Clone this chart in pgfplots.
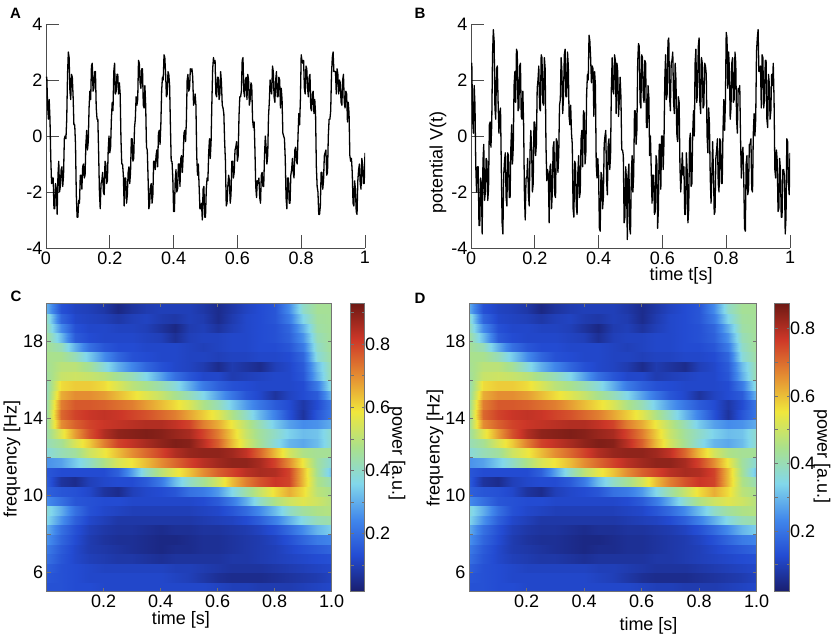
\documentclass[border=0pt]{standalone}
\usepackage{fontspec}
\setmainfont{Liberation Sans}
\usepackage{pgfplots}
\usepackage{pgfplotstable}
\pgfplotsset{compat=1.18}
\pgfplotsset{/pgf/number format/assume math mode=true}
\pgfplotsset{colormap={softjet}{rgb255=(25,30,110) rgb255=(35,75,210) rgb255=(65,135,235) rgb255=(130,215,235) rgb255=(170,225,140) rgb255=(240,230,60) rgb255=(228,140,50) rgb255=(205,55,40) rgb255=(110,25,20)}}

\pgfplotstableread{
t a b
0 2.1 2.5
0.0025 2.1 2.6
0.005 1.1 0.6
0.0075 0.6 0.1
0.01 1.3 1.8
0.0125 0.6 1.1
0.015 -0.8 -1.1
0.0175 -1.7 -2.0
0.02 -1.5 -1.1
0.0225 -1.5 -1.1
0.025 -2.6 -3.2
0.0275 -2.6 -3.2
0.03 -1.7 -1.5
0.0325 -1.9 -1.7
0.035 -2.8 -3.5
0.0375 -1.4 -0.9
0.04 -0.9 -0.3
0.0425 -2.0 -2.3
0.045 -1.8 -2.0
0.0475 -1.2 -0.8
0.05 -1.1 -0.9
0.0525 -1.8 -2.3
0.055 -1.4 -1.9
0.0575 -0.1 0.4
0.06 0.0 0.5
0.0625 -0.1 -0.4
0.065 0.6 0.4
0.0675 2.2 2.9
0.07 3.0 3.8
0.0725 2.8 3.4
0.075 1.6 1.0
0.0775 1.3 0.6
0.08 2.2 2.4
0.0825 2.1 2.5
0.085 1.4 1.2
0.0875 0.4 0.1
0.09 0.4 0.8
0.0925 -0.3 1.0
0.095 -2.1 -1.1
0.0975 -2.9 -3.1
0.1 -2.9 -3.5
0.1025 -2.3 -1.4
0.105 -2.4 -0.9
0.1075 -1.4 -0.6
0.11 -1.4 -2.2
0.1125 -1.9 -2.5
0.115 -1.1 -0.6
0.1175 -1.0 -0.7
0.12 -1.5 -2.2
0.1225 -1.4 -2.2
0.125 -0.3 -0.4
0.1275 0.2 0.4
0.13 -0.5 -1.0
0.1325 -0.2 -0.4
0.135 1.0 1.8
0.1375 1.6 2.3
0.14 1.3 1.2
0.1425 2.5 3.1
0.145 2.6 3.0
0.1475 1.6 0.9
0.15 1.7 1.0
0.1525 2.3 2.5
0.155 2.3 2.6
0.1575 1.0 0.7
0.16 0.6 0.6
0.1625 0.6 1.6
0.165 -0.6 0.4
0.1675 -2.0 -2.1
0.17 -2.6 -3.0
0.1725 -1.7 -1.5
0.175 -1.6 -1.5
0.1775 -1.3 -0.8
0.18 -2.0 -2.1
0.1825 -2.1 -2.5
0.185 -0.9 -0.6
0.1875 -1.0 0.2
0.19 -1.7 -0.4
0.1925 -1.6 -2.0
0.195 -0.5 -1.7
0.1975 0.0 0.5
0.2 -0.6 0.5
0.2025 -0.4 -0.7
0.205 0.6 -0.3
0.2075 1.2 1.7
0.21 0.9 2.0
0.2125 2.3 2.5
0.215 2.6 1.0
0.2175 1.5 0.9
0.22 1.6 2.9
0.2225 2.2 2.8
0.225 2.2 1.2
0.2275 1.5 1.1
0.23 1.9 2.8
0.2325 1.5 2.4
0.235 -0.1 -0.3
0.2375 -1.0 -1.6
0.24 -1.0 -1.2
0.2425 -1.4 -1.4
0.245 -2.5 -3.1
0.2475 -1.5 -1.1
0.25 -1.5 -1.0
0.2525 -2.4 -2.6
0.255 -2.1 -2.0
0.2575 -1.3 -0.4
0.26 -1.1 -0.2
0.2625 -1.7 -2.1
0.265 -1.3 -2.2
0.2675 -0.1 -0.1
0.27 -0.1 -0.2
0.2725 -0.9 -1.3
0.275 -0.8 -0.7
0.2775 0.3 1.1
0.28 0.6 1.3
0.2825 1.4 2.8
0.285 1.1 2.3
0.2875 1.3 0.8
0.29 2.7 1.4
0.2925 2.6 2.9
0.295 1.9 3.1
0.2975 1.7 1.4
0.3 2.4 1.4
0.3025 2.4 3.0
0.305 1.1 2.5
0.3075 1.0 0.7
0.31 1.8 0.4
0.3125 1.1 1.1
0.315 -0.4 0.1
0.3175 -0.5 -0.3
0.32 -1.5 -2.6
0.3225 -2.6 -2.9
0.325 -2.4 -0.9
0.3275 -1.8 -1.0
0.33 -1.7 -2.5
0.3325 -2.4 -2.8
0.335 -2.1 -1.3
0.3375 -0.9 -0.7
0.34 -0.9 -2.2
0.3425 -1.2 -2.0
0.345 -0.7 -0.1
0.3475 -0.5 0.2
0.35 -1.1 -1.1
0.3525 0.1 0.9
0.355 0.2 0.8
0.3575 -0.3 -1.0
0.36 0.4 -0.6
0.3625 1.6 1.5
0.365 2.1 2.2
0.3675 2.0 2.0
0.37 2.9 3.6
0.3725 2.8 3.4
0.375 2.2 2.8
0.3775 1.4 1.9
0.38 1.5 2.5
0.3825 2.3 2.4
0.385 2.2 0.7
0.3875 1.8 2.3
0.39 0.4 1.8
0.3925 -0.9 -1.0
0.395 -0.9 -1.5
0.3975 -1.5 -0.8
0.4 -2.7 -1.4
0.4025 -2.7 -3.3
0.405 -1.6 -3.4
0.4075 -1.2 -1.3
0.41 -2.0 -1.4
0.4125 -1.9 -2.6
0.415 -1.0 -2.2
0.4175 -1.0 -0.3
0.42 -1.8 0.0
0.4225 -0.8 0.2
0.425 -0.7 -1.6
0.4275 -1.3 -2.1
0.43 -0.7 -0.3
0.4325 0.1 -0.1
0.435 0.2 -1.2
0.4375 -0.2 -0.7
0.44 0.5 1.7
0.4425 2.0 2.8
0.445 2.2 1.6
0.4475 1.6 1.5
0.45 1.7 2.9
0.4525 2.4 2.7
0.455 2.3 0.8
0.4575 2.4 2.6
0.46 2.1 2.3
0.4625 1.1 0.7
0.465 1.2 1.3
0.4675 1.5 2.1
0.47 1.1 1.4
0.4725 -0.7 -0.5
0.475 -1.4 -0.5
0.4775 -1.0 -0.7
0.48 -1.8 -3.1
0.4825 -2.6 -2.9
0.485 -2.6 -1.1
0.4875 -2.4 -1.6
0.49 -3.0 -3.7
0.4925 -1.9 -1.4
0.495 -1.8 -1.0
0.4975 -2.9 -3.3
0.5 -2.9 -3.5
0.5025 -1.9 -1.4
0.505 -1.5 -0.7
0.5075 -1.6 -2.0
0.51 -0.6 -1.4
0.5125 -0.1 0.9
0.515 -0.8 0.9
0.5175 -0.2 -0.3
0.52 1.2 0.2
0.5225 2.4 2.6
0.525 2.8 3.3
0.5275 2.6 3.2
0.53 2.7 1.2
0.5325 1.5 1.0
0.535 1.4 2.9
0.5375 2.1 2.8
0.54 2.1 1.4
0.5425 1.3 1.2
0.545 1.5 2.7
0.5475 2.3 2.6
0.55 1.9 0.3
0.5525 1.1 0.3
0.555 1.0 1.8
0.5575 0.8 1.4
0.56 -0.2 -0.7
0.5625 -0.9 0.0
0.565 -2.5 -1.2
0.5675 -2.4 -2.4
0.57 -1.8 -1.4
0.5725 -1.4 -1.4
0.575 -1.6 -2.8
0.5775 -2.4 -2.7
0.58 -2.1 -0.7
0.5825 -0.9 -0.9
0.585 -0.9 -3.3
0.5875 -1.5 -2.6
0.59 -1.3 -0.3
0.5925 -0.5 -0.3
0.595 -0.4 -1.9
0.5975 -0.2 0.0
0.6 -0.9 0.0
0.6025 -0.7 -1.2
0.605 0.7 -0.2
0.6075 1.4 2.0
0.61 1.4 2.9
0.6125 1.6 1.3
0.615 2.7 1.5
0.6175 2.8 3.4
0.62 1.6 3.5
0.6225 1.4 1.4
0.625 2.0 0.9
0.6275 2.1 2.6
0.63 1.3 2.7
0.6325 2.2 3.0
0.635 2.0 1.2
0.6375 1.1 0.8
0.64 1.3 2.6
0.6425 1.9 2.0
0.645 1.8 0.1
0.6475 0.6 -0.2
0.65 0.3 1.4
0.6525 0.5 1.2
0.655 -0.5 -1.1
0.6575 -1.8 -2.0
0.66 -2.2 -1.3
0.6625 -1.6 -0.6
0.665 -1.7 -1.4
0.6675 -1.5 -1.1
0.67 -2.2 -2.8
0.6725 -2.4 -2.8
0.675 -1.4 -0.6
0.6775 -1.3 -1.2
0.68 -1.8 -3.1
0.6825 -1.8 -2.6
0.685 -0.7 -0.2
0.6875 0.0 0.1
0.69 -0.4 -1.8
0.6925 -1.0 -1.7
0.695 -0.7 0.1
0.6975 0.7 0.9
0.7 1.2 0.0
0.7025 2.0 2.6
0.705 1.7 3.1
0.7075 1.5 1.2
0.71 2.5 1.5
0.7125 2.3 3.2
0.715 1.4 3.5
0.7175 1.2 1.2
0.72 2.0 0.8
0.7225 2.3 2.8
0.725 1.4 2.6
0.7275 1.4 1.0
0.73 2.1 1.1
0.7325 2.0 2.6
0.735 1.0 2.5
0.7375 1.7 2.2
0.74 1.3 0.0
0.7425 0.1 -0.6
0.745 0.0 1.0
0.7475 -0.1 0.4
0.75 -0.8 -1.5
0.7525 -2.2 -2.4
0.755 -2.6 -1.4
0.7575 -1.5 -0.2
0.76 -1.5 -1.3
0.7625 -2.4 -2.8
0.765 -2.4 -2.7
0.7675 -1.4 -0.8
0.77 -1.2 -0.5
0.7725 -0.8 -0.1
0.775 -1.3 -1.7
0.7775 -1.5 -2.0
0.78 -0.5 -0.1
0.7825 -0.4 -0.2
0.785 -0.9 -1.7
0.7875 -1.0 -1.7
0.79 0.0 0.2
0.7925 0.8 1.3
0.795 0.4 0.2
0.7975 1.3 1.2
0.8 2.9 3.7
0.8025 2.7 3.5
0.805 2.6 1.7
0.8075 2.7 3.0
0.81 1.7 2.4
0.8125 1.5 0.6
0.815 2.5 1.0
0.8175 2.4 2.6
0.82 1.7 2.8
0.8225 1.4 1.2
0.825 2.1 1.3
0.8275 2.2 3.0
0.83 1.0 2.6
0.8325 0.9 0.6
0.835 1.5 0.1
0.8375 1.6 1.7
0.84 0.8 1.6
0.8425 1.3 1.8
0.845 0.8 -0.1
0.8475 -1.1 -1.5
0.85 -1.8 -0.6
0.8525 -2.0 -0.4
0.855 -2.8 -1.5
0.8575 -2.8 -3.3
0.86 -2.5 -3.4
0.8625 -1.3 -1.0
0.865 -1.3 -0.7
0.8675 -1.9 -2.1
0.87 -1.6 -1.9
0.8725 -0.7 -0.3
0.875 -0.6 -0.3
0.8775 -0.5 -0.1
0.88 -1.4 -1.9
0.8825 -1.3 -2.0
0.885 0.0 0.1
0.8875 0.6 0.8
0.89 0.6 0.0
0.8925 0.9 0.6
0.895 2.2 3.0
0.8975 2.8 3.5
0.9 3.0 3.8
0.9025 2.3 2.3
0.905 2.3 2.4
0.9075 2.3 2.5
0.91 1.5 1.0
0.9125 2.4 2.9
0.915 2.2 2.8
0.9175 1.5 1.0
0.92 2.0 1.3
0.9225 1.9 2.7
0.925 1.2 2.7
0.9275 1.1 0.6
0.93 2.0 0.3
0.9325 2.2 2.2
0.935 1.2 1.9
0.9375 1.0 0.6
0.94 1.6 0.9
0.9425 1.5 2.2
0.945 0.5 1.8
0.9475 1.2 2.6
0.95 0.8 1.3
0.9525 -0.7 -1.2
0.955 -0.9 -1.5
0.9575 -0.8 -0.5
0.96 -1.3 -0.9
0.9625 -2.4 -2.7
0.965 -2.5 -2.6
0.9675 -1.6 -0.8
0.97 -1.9 -1.2
0.9725 -2.7 -2.9
0.975 -2.8 -2.9
0.9775 -1.6 -1.2
0.98 -1.2 -1.2
0.9825 -1.0 -1.4
0.985 -1.7 -3.5
0.9875 -1.9 -2.9
0.99 -0.8 -0.1
0.9925 -1.0 -0.2
0.995 -1.7 -1.7
0.9975 -1.7 -2.1
1 -0.6 -0.6
}\sig

\pgfplotstableread{
x y z
0 20 0.30
0.05 20 0.14
0.1 20 0.11
0.15 20 0.10
0.2 20 0.08
0.25 20 0.04
0.3 20 0.07
0.35 20 0.09
0.4 20 0.10
0.45 20 0.10
0.5 20 0.10
0.55 20 0.08
0.6 20 0.05
0.65 20 0.08
0.7 20 0.11
0.75 20 0.13
0.8 20 0.15
0.85 20 0.25
0.9 20 0.40
0.95 20 0.46
1 20 0.46
0 19.5 0.30
0.05 19.5 0.14
0.1 19.5 0.11
0.15 19.5 0.10
0.2 19.5 0.08
0.25 19.5 0.04
0.3 19.5 0.07
0.35 19.5 0.09
0.4 19.5 0.10
0.45 19.5 0.10
0.5 19.5 0.10
0.55 19.5 0.08
0.6 19.5 0.05
0.65 19.5 0.08
0.7 19.5 0.11
0.75 19.5 0.13
0.8 19.5 0.15
0.85 19.5 0.25
0.9 19.5 0.40
0.95 19.5 0.46
1 19.5 0.46
0 19.5 0.40
0.05 19.5 0.18
0.1 19.5 0.12
0.15 19.5 0.11
0.2 19.5 0.10
0.25 19.5 0.08
0.3 19.5 0.10
0.35 19.5 0.11
0.4 19.5 0.09
0.45 19.5 0.08
0.5 19.5 0.10
0.55 19.5 0.09
0.6 19.5 0.05
0.65 19.5 0.09
0.7 19.5 0.12
0.75 19.5 0.13
0.8 19.5 0.15
0.85 19.5 0.22
0.9 19.5 0.36
0.95 19.5 0.45
1 19.5 0.46
0 19 0.40
0.05 19 0.18
0.1 19 0.12
0.15 19 0.11
0.2 19 0.10
0.25 19 0.08
0.3 19 0.10
0.35 19 0.11
0.4 19 0.09
0.45 19 0.08
0.5 19 0.10
0.55 19 0.09
0.6 19 0.05
0.65 19 0.09
0.7 19 0.12
0.75 19 0.13
0.8 19 0.15
0.85 19 0.22
0.9 19 0.36
0.95 19 0.45
1 19 0.46
0 19 0.42
0.05 19 0.25
0.1 19 0.14
0.15 19 0.12
0.2 19 0.12
0.25 19 0.11
0.3 19 0.11
0.35 19 0.10
0.4 19 0.07
0.45 19 0.04
0.5 19 0.09
0.55 19 0.10
0.6 19 0.07
0.65 19 0.10
0.7 19 0.12
0.75 19 0.13
0.8 19 0.14
0.85 19 0.18
0.9 19 0.30
0.95 19 0.44
1 19 0.46
0 18.5 0.42
0.05 18.5 0.25
0.1 18.5 0.14
0.15 18.5 0.12
0.2 18.5 0.12
0.25 18.5 0.11
0.3 18.5 0.11
0.35 18.5 0.10
0.4 18.5 0.07
0.45 18.5 0.04
0.5 18.5 0.09
0.55 18.5 0.10
0.6 18.5 0.07
0.65 18.5 0.10
0.7 18.5 0.12
0.75 18.5 0.13
0.8 18.5 0.14
0.85 18.5 0.18
0.9 18.5 0.30
0.95 18.5 0.44
1 18.5 0.46
0 18.5 0.45
0.05 18.5 0.32
0.1 18.5 0.16
0.15 18.5 0.13
0.2 18.5 0.12
0.25 18.5 0.12
0.3 18.5 0.12
0.35 18.5 0.11
0.4 18.5 0.10
0.45 18.5 0.06
0.5 18.5 0.10
0.55 18.5 0.11
0.6 18.5 0.11
0.65 18.5 0.12
0.7 18.5 0.12
0.75 18.5 0.13
0.8 18.5 0.14
0.85 18.5 0.17
0.9 18.5 0.26
0.95 18.5 0.42
1 18.5 0.46
0 18 0.45
0.05 18 0.32
0.1 18 0.16
0.15 18 0.13
0.2 18 0.12
0.25 18 0.12
0.3 18 0.12
0.35 18 0.11
0.4 18 0.10
0.45 18 0.06
0.5 18 0.10
0.55 18 0.11
0.6 18 0.11
0.65 18 0.12
0.7 18 0.12
0.75 18 0.13
0.8 18 0.14
0.85 18 0.17
0.9 18 0.26
0.95 18 0.42
1 18 0.46
0 18 0.46
0.05 18 0.42
0.1 18 0.30
0.15 18 0.20
0.2 18 0.15
0.25 18 0.13
0.3 18 0.13
0.35 18 0.12
0.4 18 0.12
0.45 18 0.12
0.5 18 0.11
0.55 18 0.10
0.6 18 0.11
0.65 18 0.12
0.7 18 0.12
0.75 18 0.13
0.8 18 0.13
0.85 18 0.15
0.9 18 0.22
0.95 18 0.40
1 18 0.46
0 17.5 0.46
0.05 17.5 0.42
0.1 17.5 0.30
0.15 17.5 0.20
0.2 17.5 0.15
0.25 17.5 0.13
0.3 17.5 0.13
0.35 17.5 0.12
0.4 17.5 0.12
0.45 17.5 0.12
0.5 17.5 0.11
0.55 17.5 0.10
0.6 17.5 0.11
0.65 17.5 0.12
0.7 17.5 0.12
0.75 17.5 0.13
0.8 17.5 0.13
0.85 17.5 0.15
0.9 17.5 0.22
0.95 17.5 0.40
1 17.5 0.46
0 17.5 0.47
0.05 17.5 0.47
0.1 17.5 0.42
0.15 17.5 0.34
0.2 17.5 0.25
0.25 17.5 0.18
0.3 17.5 0.14
0.35 17.5 0.13
0.4 17.5 0.12
0.45 17.5 0.12
0.5 17.5 0.11
0.55 17.5 0.11
0.6 17.5 0.10
0.65 17.5 0.11
0.7 17.5 0.11
0.75 17.5 0.12
0.8 17.5 0.12
0.85 17.5 0.13
0.9 17.5 0.18
0.95 17.5 0.38
1 17.5 0.45
0 17 0.47
0.05 17 0.47
0.1 17 0.42
0.15 17 0.34
0.2 17 0.25
0.25 17 0.18
0.3 17 0.14
0.35 17 0.13
0.4 17 0.12
0.45 17 0.12
0.5 17 0.11
0.55 17 0.11
0.6 17 0.10
0.65 17 0.11
0.7 17 0.11
0.75 17 0.12
0.8 17 0.12
0.85 17 0.13
0.9 17 0.18
0.95 17 0.38
1 17 0.45
0 17 0.46
0.05 17 0.50
0.1 17 0.50
0.15 17 0.46
0.2 17 0.38
0.25 17 0.30
0.3 17 0.24
0.35 17 0.18
0.4 17 0.14
0.45 17 0.12
0.5 17 0.11
0.55 17 0.09
0.6 17 0.05
0.65 17 0.09
0.7 17 0.07
0.75 17 0.05
0.8 17 0.10
0.85 17 0.12
0.9 17 0.16
0.95 17 0.32
1 17 0.44
0 16.5 0.46
0.05 16.5 0.50
0.1 16.5 0.50
0.15 16.5 0.46
0.2 16.5 0.38
0.25 16.5 0.30
0.3 16.5 0.24
0.35 16.5 0.18
0.4 16.5 0.14
0.45 16.5 0.12
0.5 16.5 0.11
0.55 16.5 0.09
0.6 16.5 0.05
0.65 16.5 0.09
0.7 16.5 0.07
0.75 16.5 0.05
0.8 16.5 0.10
0.85 16.5 0.12
0.9 16.5 0.16
0.95 16.5 0.32
1 16.5 0.44
0 16.5 0.45
0.05 16.5 0.52
0.1 16.5 0.53
0.15 16.5 0.52
0.2 16.5 0.50
0.25 16.5 0.46
0.3 16.5 0.42
0.35 16.5 0.36
0.4 16.5 0.28
0.45 16.5 0.20
0.5 16.5 0.15
0.55 16.5 0.12
0.6 16.5 0.12
0.65 16.5 0.09
0.7 16.5 0.10
0.75 16.5 0.11
0.8 16.5 0.12
0.85 16.5 0.12
0.9 16.5 0.15
0.95 16.5 0.30
1 16.5 0.44
0 16 0.45
0.05 16 0.52
0.1 16 0.53
0.15 16 0.52
0.2 16 0.50
0.25 16 0.46
0.3 16 0.42
0.35 16 0.36
0.4 16 0.28
0.45 16 0.20
0.5 16 0.15
0.55 16 0.12
0.6 16 0.12
0.65 16 0.09
0.7 16 0.10
0.75 16 0.11
0.8 16 0.12
0.85 16 0.12
0.9 16 0.15
0.95 16 0.30
1 16 0.44
0 16 0.42
0.05 16 0.60
0.1 16 0.62
0.15 16 0.62
0.2 16 0.60
0.25 16 0.55
0.3 16 0.50
0.35 16 0.47
0.4 16 0.43
0.45 16 0.38
0.5 16 0.30
0.55 16 0.22
0.6 16 0.17
0.65 16 0.14
0.7 16 0.13
0.75 16 0.12
0.8 16 0.12
0.85 16 0.12
0.9 16 0.13
0.95 16 0.22
1 16 0.40
0 15.5 0.42
0.05 15.5 0.60
0.1 15.5 0.62
0.15 15.5 0.62
0.2 15.5 0.60
0.25 15.5 0.55
0.3 15.5 0.50
0.35 15.5 0.47
0.4 15.5 0.43
0.45 15.5 0.38
0.5 15.5 0.30
0.55 15.5 0.22
0.6 15.5 0.17
0.65 15.5 0.14
0.7 15.5 0.13
0.75 15.5 0.12
0.8 15.5 0.12
0.85 15.5 0.12
0.9 15.5 0.13
0.95 15.5 0.22
1 15.5 0.40
0 15.5 0.42
0.05 15.5 0.66
0.1 15.5 0.70
0.15 15.5 0.70
0.2 15.5 0.68
0.25 15.5 0.64
0.3 15.5 0.60
0.35 15.5 0.56
0.4 15.5 0.52
0.45 15.5 0.47
0.5 15.5 0.42
0.55 15.5 0.36
0.6 15.5 0.28
0.65 15.5 0.21
0.7 15.5 0.15
0.75 15.5 0.12
0.8 15.5 0.07
0.85 15.5 0.11
0.9 15.5 0.13
0.95 15.5 0.16
1 15.5 0.32
0 15 0.42
0.05 15 0.66
0.1 15 0.70
0.15 15 0.70
0.2 15 0.68
0.25 15 0.64
0.3 15 0.60
0.35 15 0.56
0.4 15 0.52
0.45 15 0.47
0.5 15 0.42
0.55 15 0.36
0.6 15 0.28
0.65 15 0.21
0.7 15 0.15
0.75 15 0.12
0.8 15 0.07
0.85 15 0.11
0.9 15 0.13
0.95 15 0.16
1 15 0.32
0 15 0.44
0.05 15 0.72
0.1 15 0.77
0.15 15 0.77
0.2 15 0.76
0.25 15 0.74
0.3 15 0.72
0.35 15 0.68
0.4 15 0.64
0.45 15 0.60
0.5 15 0.55
0.55 15 0.48
0.6 15 0.42
0.65 15 0.34
0.7 15 0.27
0.75 15 0.21
0.8 15 0.16
0.85 15 0.13
0.9 15 0.08
0.95 15 0.13
1 15 0.22
0 14.5 0.44
0.05 14.5 0.72
0.1 14.5 0.77
0.15 14.5 0.77
0.2 14.5 0.76
0.25 14.5 0.74
0.3 14.5 0.72
0.35 14.5 0.68
0.4 14.5 0.64
0.45 14.5 0.60
0.5 14.5 0.55
0.55 14.5 0.48
0.6 14.5 0.42
0.65 14.5 0.34
0.7 14.5 0.27
0.75 14.5 0.21
0.8 14.5 0.16
0.85 14.5 0.13
0.9 14.5 0.08
0.95 14.5 0.13
1 14.5 0.22
0 14.5 0.45
0.05 14.5 0.75
0.1 14.5 0.80
0.15 14.5 0.82
0.2 14.5 0.83
0.25 14.5 0.82
0.3 14.5 0.80
0.35 14.5 0.78
0.4 14.5 0.75
0.45 14.5 0.72
0.5 14.5 0.67
0.55 14.5 0.62
0.6 14.5 0.56
0.65 14.5 0.48
0.7 14.5 0.40
0.75 14.5 0.31
0.8 14.5 0.23
0.85 14.5 0.14
0.9 14.5 0.07
0.95 14.5 0.15
1 14.5 0.22
0 14 0.45
0.05 14 0.75
0.1 14 0.80
0.15 14 0.82
0.2 14 0.83
0.25 14 0.82
0.3 14 0.80
0.35 14 0.78
0.4 14 0.75
0.45 14 0.72
0.5 14 0.67
0.55 14 0.62
0.6 14 0.56
0.65 14 0.48
0.7 14 0.40
0.75 14 0.31
0.8 14 0.23
0.85 14 0.14
0.9 14 0.07
0.95 14 0.15
1 14 0.22
0 14 0.45
0.05 14 0.70
0.1 14 0.76
0.15 14 0.80
0.2 14 0.82
0.25 14 0.83
0.3 14 0.84
0.35 14 0.85
0.4 14 0.85
0.45 14 0.83
0.5 14 0.80
0.55 14 0.72
0.6 14 0.66
0.65 14 0.58
0.7 14 0.50
0.75 14 0.42
0.8 14 0.34
0.85 14 0.28
0.9 14 0.25
0.95 14 0.26
1 14 0.30
0 13.5 0.45
0.05 13.5 0.70
0.1 13.5 0.76
0.15 13.5 0.80
0.2 13.5 0.82
0.25 13.5 0.83
0.3 13.5 0.84
0.35 13.5 0.85
0.4 13.5 0.85
0.45 13.5 0.83
0.5 13.5 0.80
0.55 13.5 0.72
0.6 13.5 0.66
0.65 13.5 0.58
0.7 13.5 0.50
0.75 13.5 0.42
0.8 13.5 0.34
0.85 13.5 0.28
0.9 13.5 0.25
0.95 13.5 0.26
1 13.5 0.30
0 13.5 0.44
0.05 13.5 0.56
0.1 13.5 0.68
0.15 13.5 0.78
0.2 13.5 0.85
0.25 13.5 0.89
0.3 13.5 0.90
0.35 13.5 0.91
0.4 13.5 0.90
0.45 13.5 0.88
0.5 13.5 0.86
0.55 13.5 0.80
0.6 13.5 0.72
0.65 13.5 0.62
0.7 13.5 0.52
0.75 13.5 0.45
0.8 13.5 0.40
0.85 13.5 0.35
0.9 13.5 0.32
0.95 13.5 0.33
1 13.5 0.40
0 13 0.44
0.05 13 0.56
0.1 13 0.68
0.15 13 0.78
0.2 13 0.85
0.25 13 0.89
0.3 13 0.90
0.35 13 0.91
0.4 13 0.90
0.45 13 0.88
0.5 13 0.86
0.55 13 0.80
0.6 13 0.72
0.65 13 0.62
0.7 13 0.52
0.75 13 0.45
0.8 13 0.40
0.85 13 0.35
0.9 13 0.32
0.95 13 0.33
1 13 0.40
0 13 0.42
0.05 13 0.46
0.1 13 0.55
0.15 13 0.62
0.2 13 0.72
0.25 13 0.80
0.3 13 0.83
0.35 13 0.86
0.4 13 0.89
0.45 13 0.91
0.5 13 0.90
0.55 13 0.84
0.6 13 0.76
0.65 13 0.64
0.7 13 0.54
0.75 13 0.46
0.8 13 0.38
0.85 13 0.31
0.9 13 0.29
0.95 13 0.32
1 13 0.40
0 12.5 0.42
0.05 12.5 0.46
0.1 12.5 0.55
0.15 12.5 0.62
0.2 12.5 0.72
0.25 12.5 0.80
0.3 12.5 0.83
0.35 12.5 0.86
0.4 12.5 0.89
0.45 12.5 0.91
0.5 12.5 0.90
0.55 12.5 0.84
0.6 12.5 0.76
0.65 12.5 0.64
0.7 12.5 0.54
0.75 12.5 0.46
0.8 12.5 0.38
0.85 12.5 0.31
0.9 12.5 0.29
0.95 12.5 0.32
1 12.5 0.40
0 12.5 0.38
0.05 12.5 0.42
0.1 12.5 0.45
0.15 12.5 0.53
0.2 12.5 0.58
0.25 12.5 0.64
0.3 12.5 0.70
0.35 12.5 0.75
0.4 12.5 0.80
0.45 12.5 0.85
0.5 12.5 0.88
0.55 12.5 0.89
0.6 12.5 0.89
0.65 12.5 0.87
0.7 12.5 0.83
0.75 12.5 0.75
0.8 12.5 0.64
0.85 12.5 0.54
0.9 12.5 0.48
0.95 12.5 0.46
1 12.5 0.46
0 12 0.38
0.05 12 0.42
0.1 12 0.45
0.15 12 0.53
0.2 12 0.58
0.25 12 0.64
0.3 12 0.70
0.35 12 0.75
0.4 12 0.80
0.45 12 0.85
0.5 12 0.88
0.55 12 0.89
0.6 12 0.89
0.65 12 0.87
0.7 12 0.83
0.75 12 0.75
0.8 12 0.64
0.85 12 0.54
0.9 12 0.48
0.95 12 0.46
1 12 0.46
0 12 0.26
0.05 12 0.28
0.1 12 0.34
0.15 12 0.40
0.2 12 0.48
0.25 12 0.55
0.3 12 0.59
0.35 12 0.64
0.4 12 0.70
0.45 12 0.75
0.5 12 0.80
0.55 12 0.84
0.6 12 0.87
0.65 12 0.89
0.7 12 0.89
0.75 12 0.86
0.8 12 0.80
0.85 12 0.70
0.9 12 0.58
0.95 12 0.45
1 12 0.38
0 11.5 0.26
0.05 11.5 0.28
0.1 11.5 0.34
0.15 11.5 0.40
0.2 11.5 0.48
0.25 11.5 0.55
0.3 11.5 0.59
0.35 11.5 0.64
0.4 11.5 0.70
0.45 11.5 0.75
0.5 11.5 0.80
0.55 11.5 0.84
0.6 11.5 0.87
0.65 11.5 0.89
0.7 11.5 0.89
0.75 11.5 0.86
0.8 11.5 0.80
0.85 11.5 0.70
0.9 11.5 0.58
0.95 11.5 0.45
1 11.5 0.38
0 11.5 0.15
0.05 11.5 0.13
0.1 11.5 0.13
0.15 11.5 0.13
0.2 11.5 0.13
0.25 11.5 0.17
0.3 11.5 0.28
0.35 11.5 0.40
0.4 11.5 0.50
0.45 11.5 0.57
0.5 11.5 0.63
0.55 11.5 0.70
0.6 11.5 0.76
0.65 11.5 0.80
0.7 11.5 0.84
0.75 11.5 0.86
0.8 11.5 0.85
0.85 11.5 0.80
0.9 11.5 0.64
0.95 11.5 0.46
1 11.5 0.32
0 11 0.15
0.05 11 0.13
0.1 11 0.13
0.15 11 0.13
0.2 11 0.13
0.25 11 0.17
0.3 11 0.28
0.35 11 0.40
0.4 11 0.50
0.45 11 0.57
0.5 11 0.63
0.55 11 0.70
0.6 11 0.76
0.65 11 0.80
0.7 11 0.84
0.75 11 0.86
0.8 11 0.85
0.85 11 0.80
0.9 11 0.64
0.95 11 0.46
1 11 0.32
0 11 0.16
0.05 11 0.07
0.1 11 0.05
0.15 11 0.10
0.2 11 0.12
0.25 11 0.13
0.3 11 0.13
0.35 11 0.16
0.4 11 0.22
0.45 11 0.32
0.5 11 0.40
0.55 11 0.46
0.6 11 0.54
0.65 11 0.64
0.7 11 0.72
0.75 11 0.78
0.8 11 0.82
0.85 11 0.80
0.9 11 0.64
0.95 11 0.48
1 11 0.42
0 10.5 0.16
0.05 10.5 0.07
0.1 10.5 0.05
0.15 10.5 0.10
0.2 10.5 0.12
0.25 10.5 0.13
0.3 10.5 0.13
0.35 10.5 0.16
0.4 10.5 0.22
0.45 10.5 0.32
0.5 10.5 0.40
0.55 10.5 0.46
0.6 10.5 0.54
0.65 10.5 0.64
0.7 10.5 0.72
0.75 10.5 0.78
0.8 10.5 0.82
0.85 10.5 0.80
0.9 10.5 0.64
0.95 10.5 0.48
1 10.5 0.42
0 10.5 0.17
0.05 10.5 0.15
0.1 10.5 0.14
0.15 10.5 0.12
0.2 10.5 0.07
0.25 10.5 0.05
0.3 10.5 0.10
0.35 10.5 0.12
0.4 10.5 0.13
0.45 10.5 0.15
0.5 10.5 0.20
0.55 10.5 0.22
0.6 10.5 0.27
0.65 10.5 0.36
0.7 10.5 0.44
0.75 10.5 0.52
0.8 10.5 0.60
0.85 10.5 0.66
0.9 10.5 0.60
0.95 10.5 0.50
1 10.5 0.47
0 10 0.17
0.05 10 0.15
0.1 10 0.14
0.15 10 0.12
0.2 10 0.07
0.25 10 0.05
0.3 10 0.10
0.35 10 0.12
0.4 10 0.13
0.45 10 0.15
0.5 10 0.20
0.55 10 0.22
0.6 10 0.27
0.65 10 0.36
0.7 10 0.44
0.75 10 0.52
0.8 10 0.60
0.85 10 0.66
0.9 10 0.60
0.95 10 0.50
1 10 0.47
0 10 0.25
0.05 10 0.20
0.1 10 0.15
0.15 10 0.14
0.2 10 0.13
0.25 10 0.13
0.3 10 0.12
0.35 10 0.12
0.4 10 0.12
0.45 10 0.12
0.5 10 0.12
0.55 10 0.13
0.6 10 0.16
0.65 10 0.22
0.7 10 0.30
0.75 10 0.40
0.8 10 0.48
0.85 10 0.53
0.9 10 0.56
0.95 10 0.53
1 10 0.49
0 9.5 0.25
0.05 9.5 0.20
0.1 9.5 0.15
0.15 9.5 0.14
0.2 9.5 0.13
0.25 9.5 0.13
0.3 9.5 0.12
0.35 9.5 0.12
0.4 9.5 0.12
0.45 9.5 0.12
0.5 9.5 0.12
0.55 9.5 0.13
0.6 9.5 0.16
0.65 9.5 0.22
0.7 9.5 0.30
0.75 9.5 0.40
0.8 9.5 0.48
0.85 9.5 0.53
0.9 9.5 0.56
0.95 9.5 0.53
1 9.5 0.49
0 9.5 0.38
0.05 9.5 0.30
0.1 9.5 0.20
0.15 9.5 0.14
0.2 9.5 0.12
0.25 9.5 0.11
0.3 9.5 0.10
0.35 9.5 0.10
0.4 9.5 0.10
0.45 9.5 0.10
0.5 9.5 0.10
0.55 9.5 0.11
0.6 9.5 0.12
0.65 9.5 0.15
0.7 9.5 0.19
0.75 9.5 0.25
0.8 9.5 0.32
0.85 9.5 0.40
0.9 9.5 0.45
0.95 9.5 0.48
1 9.5 0.49
0 9 0.38
0.05 9 0.30
0.1 9 0.20
0.15 9 0.14
0.2 9 0.12
0.25 9 0.11
0.3 9 0.10
0.35 9 0.10
0.4 9 0.10
0.45 9 0.10
0.5 9 0.10
0.55 9 0.11
0.6 9 0.12
0.65 9 0.15
0.7 9 0.19
0.75 9 0.25
0.8 9 0.32
0.85 9 0.40
0.9 9 0.45
0.95 9 0.48
1 9 0.49
0 9 0.36
0.05 9 0.26
0.1 9 0.17
0.15 9 0.12
0.2 9 0.10
0.25 9 0.08
0.3 9 0.08
0.35 9 0.08
0.4 9 0.08
0.45 9 0.08
0.5 9 0.08
0.55 9 0.09
0.6 9 0.10
0.65 9 0.11
0.7 9 0.13
0.75 9 0.17
0.8 9 0.23
0.85 9 0.30
0.9 9 0.37
0.95 9 0.42
1 9 0.44
0 8.5 0.36
0.05 8.5 0.26
0.1 8.5 0.17
0.15 8.5 0.12
0.2 8.5 0.10
0.25 8.5 0.08
0.3 8.5 0.08
0.35 8.5 0.08
0.4 8.5 0.08
0.45 8.5 0.08
0.5 8.5 0.08
0.55 8.5 0.09
0.6 8.5 0.10
0.65 8.5 0.11
0.7 8.5 0.13
0.75 8.5 0.17
0.8 8.5 0.23
0.85 8.5 0.30
0.9 8.5 0.37
0.95 8.5 0.42
1 8.5 0.44
0 8.5 0.30
0.05 8.5 0.20
0.1 8.5 0.14
0.15 8.5 0.10
0.2 8.5 0.08
0.25 8.5 0.07
0.3 8.5 0.07
0.35 8.5 0.06
0.4 8.5 0.05
0.45 8.5 0.06
0.5 8.5 0.06
0.55 8.5 0.07
0.6 8.5 0.07
0.65 8.5 0.08
0.7 8.5 0.09
0.75 8.5 0.11
0.8 8.5 0.14
0.85 8.5 0.19
0.9 8.5 0.25
0.95 8.5 0.31
1 8.5 0.35
0 8 0.30
0.05 8 0.20
0.1 8 0.14
0.15 8 0.10
0.2 8 0.08
0.25 8 0.07
0.3 8 0.07
0.35 8 0.06
0.4 8 0.05
0.45 8 0.06
0.5 8 0.06
0.55 8 0.07
0.6 8 0.07
0.65 8 0.08
0.7 8 0.09
0.75 8 0.11
0.8 8 0.14
0.85 8 0.19
0.9 8 0.25
0.95 8 0.31
1 8 0.35
0 8 0.26
0.05 8 0.18
0.1 8 0.13
0.15 8 0.09
0.2 8 0.07
0.25 8 0.06
0.3 8 0.06
0.35 8 0.05
0.4 8 0.04
0.45 8 0.04
0.5 8 0.05
0.55 8 0.06
0.6 8 0.06
0.65 8 0.07
0.7 8 0.08
0.75 8 0.09
0.8 8 0.11
0.85 8 0.14
0.9 8 0.18
0.95 8 0.22
1 8 0.24
0 7.5 0.26
0.05 7.5 0.18
0.1 7.5 0.13
0.15 7.5 0.09
0.2 7.5 0.07
0.25 7.5 0.06
0.3 7.5 0.06
0.35 7.5 0.05
0.4 7.5 0.04
0.45 7.5 0.04
0.5 7.5 0.05
0.55 7.5 0.06
0.6 7.5 0.06
0.65 7.5 0.07
0.7 7.5 0.08
0.75 7.5 0.09
0.8 7.5 0.11
0.85 7.5 0.14
0.9 7.5 0.18
0.95 7.5 0.22
1 7.5 0.24
0 7.5 0.22
0.05 7.5 0.16
0.1 7.5 0.12
0.15 7.5 0.09
0.2 7.5 0.08
0.25 7.5 0.07
0.3 7.5 0.06
0.35 7.5 0.05
0.4 7.5 0.04
0.45 7.5 0.05
0.5 7.5 0.05
0.55 7.5 0.06
0.6 7.5 0.06
0.65 7.5 0.07
0.7 7.5 0.08
0.75 7.5 0.09
0.8 7.5 0.10
0.85 7.5 0.12
0.9 7.5 0.14
0.95 7.5 0.16
1 7.5 0.18
0 7 0.22
0.05 7 0.16
0.1 7 0.12
0.15 7 0.09
0.2 7 0.08
0.25 7 0.07
0.3 7 0.06
0.35 7 0.05
0.4 7 0.04
0.45 7 0.05
0.5 7 0.05
0.55 7 0.06
0.6 7 0.06
0.65 7 0.07
0.7 7 0.08
0.75 7 0.09
0.8 7 0.10
0.85 7 0.12
0.9 7 0.14
0.95 7 0.16
1 7 0.18
0 7 0.20
0.05 7 0.15
0.1 7 0.12
0.15 7 0.10
0.2 7 0.09
0.25 7 0.08
0.3 7 0.08
0.35 7 0.07
0.4 7 0.06
0.45 7 0.07
0.5 7 0.07
0.55 7 0.07
0.6 7 0.07
0.65 7 0.08
0.7 7 0.08
0.75 7 0.09
0.8 7 0.10
0.85 7 0.11
0.9 7 0.12
0.95 7 0.13
1 7 0.14
0 6.5 0.20
0.05 6.5 0.15
0.1 6.5 0.12
0.15 6.5 0.10
0.2 6.5 0.09
0.25 6.5 0.08
0.3 6.5 0.08
0.35 6.5 0.07
0.4 6.5 0.06
0.45 6.5 0.07
0.5 6.5 0.07
0.55 6.5 0.07
0.6 6.5 0.07
0.65 6.5 0.08
0.7 6.5 0.08
0.75 6.5 0.09
0.8 6.5 0.10
0.85 6.5 0.11
0.9 6.5 0.12
0.95 6.5 0.13
1 6.5 0.14
0 6.5 0.17
0.05 6.5 0.14
0.1 6.5 0.13
0.15 6.5 0.12
0.2 6.5 0.11
0.25 6.5 0.11
0.3 6.5 0.11
0.35 6.5 0.11
0.4 6.5 0.11
0.45 6.5 0.10
0.5 6.5 0.10
0.55 6.5 0.09
0.6 6.5 0.08
0.65 6.5 0.07
0.7 6.5 0.07
0.75 6.5 0.07
0.8 6.5 0.08
0.85 6.5 0.09
0.9 6.5 0.10
0.95 6.5 0.11
1 6.5 0.12
0 6 0.17
0.05 6 0.14
0.1 6 0.13
0.15 6 0.12
0.2 6 0.11
0.25 6 0.11
0.3 6 0.11
0.35 6 0.11
0.4 6 0.11
0.45 6 0.10
0.5 6 0.10
0.55 6 0.09
0.6 6 0.08
0.65 6 0.07
0.7 6 0.07
0.75 6 0.07
0.8 6 0.08
0.85 6 0.09
0.9 6 0.10
0.95 6 0.11
1 6 0.12
0 6 0.15
0.05 6 0.14
0.1 6 0.13
0.15 6 0.12
0.2 6 0.12
0.25 6 0.12
0.3 6 0.12
0.35 6 0.12
0.4 6 0.12
0.45 6 0.11
0.5 6 0.10
0.55 6 0.08
0.6 6 0.06
0.65 6 0.05
0.7 6 0.05
0.75 6 0.05
0.8 6 0.06
0.85 6 0.07
0.9 6 0.08
0.95 6 0.09
1 6 0.11
0 5.5 0.15
0.05 5.5 0.14
0.1 5.5 0.13
0.15 5.5 0.12
0.2 5.5 0.12
0.25 5.5 0.12
0.3 5.5 0.12
0.35 5.5 0.12
0.4 5.5 0.12
0.45 5.5 0.11
0.5 5.5 0.10
0.55 5.5 0.08
0.6 5.5 0.06
0.65 5.5 0.05
0.7 5.5 0.05
0.75 5.5 0.05
0.8 5.5 0.06
0.85 5.5 0.07
0.9 5.5 0.08
0.95 5.5 0.09
1 5.5 0.11
0 5.5 0.14
0.05 5.5 0.14
0.1 5.5 0.13
0.15 5.5 0.13
0.2 5.5 0.12
0.25 5.5 0.12
0.3 5.5 0.12
0.35 5.5 0.12
0.4 5.5 0.12
0.45 5.5 0.12
0.5 5.5 0.12
0.55 5.5 0.12
0.6 5.5 0.11
0.65 5.5 0.10
0.7 5.5 0.10
0.75 5.5 0.09
0.8 5.5 0.09
0.85 5.5 0.09
0.9 5.5 0.10
0.95 5.5 0.11
1 5.5 0.12
0 5 0.14
0.05 5 0.14
0.1 5 0.13
0.15 5 0.13
0.2 5 0.12
0.25 5 0.12
0.3 5 0.12
0.35 5 0.12
0.4 5 0.12
0.45 5 0.12
0.5 5 0.12
0.55 5 0.12
0.6 5 0.11
0.65 5 0.10
0.7 5 0.10
0.75 5 0.09
0.8 5 0.09
0.85 5 0.09
0.9 5 0.10
0.95 5 0.11
1 5 0.12
}\heat

\begin{document}
\begin{tikzpicture}
\useasboundingbox (0pt,0pt) rectangle (835pt,639pt);
\pgfplotsset{
  every tick label/.append style={font=\fontsize{18}{20}\selectfont},
  sig/.style={scale only axis, width=319pt, height=224pt,
    xmin=0, xmax=1, ymin=-4, ymax=4,
    axis x line*=bottom, axis y line*=left,
    tick align=inside, major tick length=13pt,
    xtick={0,0.2,0.4,0.6,0.8,1}, ytick={-4,-2,0,2,4},
    axis line style={line width=0.9pt, black!70},
    every tick/.style={line width=0.9pt, black!70}},
  heat/.style={scale only axis, width=285pt, height=288.4pt,
    view={0}{90}, xmin=0, xmax=1, ymin=5, ymax=20,
    xtick={0.2,0.4,0.6,0.8,1}, xticklabels={0.2,0.4,0.6,0.8,1.0},
    ytick={6,8,10,12,14,16,18}, yticklabels={6,,10,,14,,18},
    tick align=inside, major tick length=4pt,
    axis line style={line width=0.8pt, black!55},
    every tick/.style={line width=0.6pt, black!55},
    colormap name=softjet, point meta min=0.015, point meta max=0.93,
    colorbar}
}
% A
\begin{axis}[sig, at={(46pt,391pt)}, anchor=south west]
\addplot[black, line width=1.3pt, line join=round] table[x=t, y=a]{\sig};
\end{axis}
% B
\begin{axis}[sig, at={(471pt,391pt)}, anchor=south west]
\addplot[black, line width=1.3pt, line join=round] table[x=t, y=b]{\sig};
\end{axis}
% C
\begin{axis}[heat, at={(46.7pt,47.3pt)}, anchor=south west,
  colorbar style={scale only axis, width=14pt, height=288.4pt,
    at={(parent axis.north east)}, anchor=north west, xshift=10.3pt,
    ytick={0.2,0.4,0.6,0.8}, minor ytick={0.1,0.3,0.5,0.7,0.9},
    tick align=inside, major tick length=3pt, minor tick length=3pt,
    axis line style={line width=0.8pt, black!55},
    every tick/.style={line width=0.6pt, black!55},
    yticklabel style={font=\fontsize{18}{20}\selectfont, xshift=-3pt}}]
\addplot3[surf, shader=interp, mesh/cols=21, mesh/ordering=x varies] table[x=x, y=y, z=z]{\heat};
\end{axis}
% D
\begin{axis}[heat, at={(469pt,47.3pt)}, anchor=south west, width=287.7pt,
  colorbar style={scale only axis, width=15pt, height=288.4pt,
    at={(parent axis.north east)}, anchor=north west, xshift=9.3pt,
    ytick={0.208,0.422,0.636,0.85}, yticklabels={0.2,0.4,0.6,0.8},
    minor ytick={0.101,0.315,0.529,0.743},
    tick align=inside, major tick length=3pt, minor tick length=3pt,
    axis line style={line width=0.8pt, black!55},
    every tick/.style={line width=0.6pt, black!55},
    yticklabel style={font=\fontsize{18}{20}\selectfont, xshift=-3pt}}]
\addplot3[surf, shader=interp, mesh/cols=21, mesh/ordering=x varies] table[x=x, y=y, z=z]{\heat};
\end{axis}
% labels
\begin{scope}[every node/.style={font=\fontsize{18}{20}\selectfont, inner sep=0pt}]
\node[font=\bfseries\fontsize{15}{15}\selectfont] at (15.5pt,625.5pt) {A};
\node[font=\bfseries\fontsize{15}{15}\selectfont] at (420pt,625.5pt) {B};
\node[font=\bfseries\fontsize{15}{15}\selectfont] at (16pt,343pt) {C};
\node[font=\bfseries\fontsize{15}{15}\selectfont] at (420pt,341pt) {D};
\node[rotate=90] at (438pt,476.5pt) {potential V(t)};
\node at (681pt,363pt) {time t[s]};
\node[rotate=90] at (12pt,180pt) {frequency [Hz]};
\node[rotate=90] at (435pt,191pt) {frequency [Hz]};
\node at (181pt,19pt) {time [s]};
\node at (648.5pt,13pt) {time [s]};
\node[rotate=-90] at (397pt,185pt) {power [a.u.]};
\node[rotate=-90] at (822pt,182.5pt) {power [a.u.]};
\end{scope}
\end{tikzpicture}
\end{document}
